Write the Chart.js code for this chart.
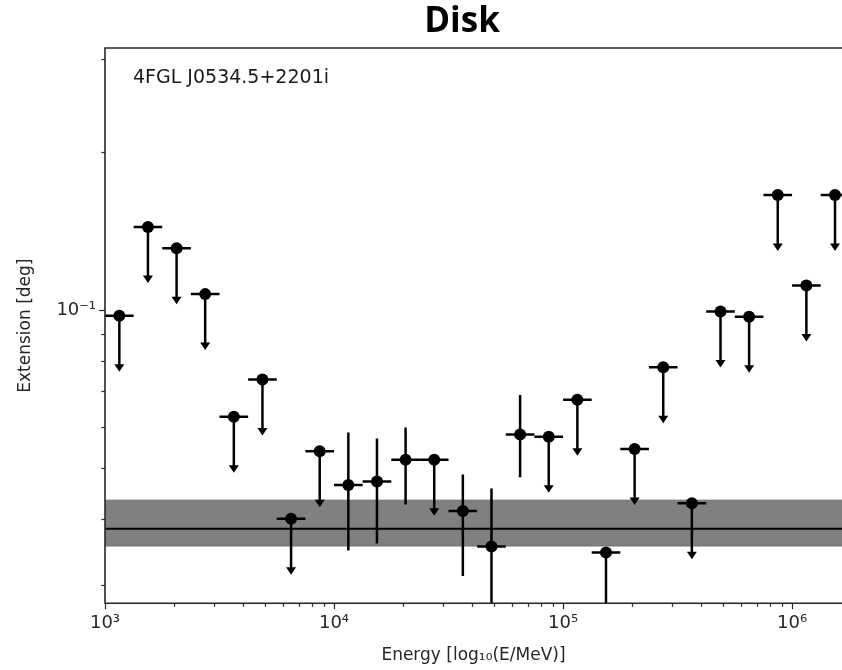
<!DOCTYPE html>
<html><head><meta charset="utf-8">
<script src="https://cdn.jsdelivr.net/npm/chart.js@4/dist/chart.umd.min.js"></script>
<style>html,body{margin:0;padding:0;background:#fff}#wrap{width:842px;height:670px;position:relative}</style>
</head><body><div id="wrap"><canvas id="c"></canvas></div>
<script>
// ---- data ----
const energyEdgesMeV = [1000, 1334, 1778, 2371, 3162, 4217, 5623, 7499, 10000, 13335, 17783, 23714, 31623, 42170, 56234, 74989, 100000, 133352, 177828, 237137, 316228, 421697, 562341, 749894, 1000000, 1333521, 1778279];
const energyCentersMeV = [1155, 1540, 2054, 2738, 3652, 4870, 6494, 8660, 11548, 15399, 20535, 27384, 36517, 48697, 64938, 86596, 115478, 153993, 205353, 273842, 365174, 486968, 649382, 865964, 1154782, 1539927];
const extensionDeg = [0.0975, 0.1438, 0.1310, 0.1072, 0.0627, 0.0738, 0.0401, 0.0539, 0.0465, 0.0472, 0.0519, 0.0519, 0.0415, 0.0355, 0.0580, 0.0574, 0.0675, 0.0346, 0.0544, 0.0778, 0.0429, 0.0993, 0.0971, 0.1655, 0.1113, 0.1655];
const isUpperLimit = [1, 1, 1, 1, 1, 1, 1, 1, 0, 0, 0, 1, 0, 0, 0, 1, 1, 0, 1, 1, 1, 1, 1, 1, 1, 1];
const errLowDeg  = [null, null, null, null, null, null, null, null, 0.0349, 0.0360, 0.0427, null, 0.0312, 0.0250, 0.0481, null, null, 0.0250, null, null, null, null, null, null, null, null];
const errHighDeg = [null, null, null, null, null, null, null, null, 0.0585, 0.0570, 0.0598, null, 0.0487, 0.0458, 0.0689, null, null, 0.0346, null, null, null, null, null, null, null, null];
const meanExtensionDeg = 0.0384;
const meanBandDeg = [0.0356, 0.0435];
const xTickValues = [1e3,2e3,3e3,4e3,5e3,6e3,7e3,8e3,9e3,1e4,2e4,3e4,4e4,5e4,6e4,7e4,8e4,9e4,1e5,2e5,3e5,4e5,5e5,6e5,7e5,8e5,9e5,1e6];
const xTickLabels = {1000: '10³', 10000: '10⁴', 100000: '10⁵', 1000000: '10⁶'};
const yTickValues = [0.03,0.04,0.05,0.06,0.07,0.08,0.09,0.1,0.2,0.3];
const yTickLabels = {0.1: '10⁻¹'};
const titleText = 'Disk';
const sourceName = '4FGL J0534.5+2201i';
const xAxisTitle = 'Energy [log₁₀(E/MeV)]';
const yAxisTitle = 'Extension [deg]';

const X_MIN = 1000, X_MAX = 1652000, Y_MIN = 0.0277, Y_MAX = 0.3148;
const ARROW_PX = 56;

const pointData = energyCentersMeV.map((x, i) => ({x, y: extensionDeg[i]}));

const errorBarPlugin = {
  id: 'errorBars',
  beforeDatasetDraw(chart, args) {
    if (args.index !== 3) return;
    const {ctx, chartArea: a, scales: {x, y}} = chart;
    ctx.save();
    ctx.beginPath(); ctx.rect(a.left, a.top, a.right - a.left, a.bottom - a.top); ctx.clip();
    ctx.strokeStyle = '#000'; ctx.fillStyle = '#000'; ctx.lineWidth = 2.5; ctx.lineCap = 'butt';
    for (let i = 0; i < extensionDeg.length; i++) {
      const px = x.getPixelForValue(energyCentersMeV[i]);
      const py = y.getPixelForValue(extensionDeg[i]);
      const xl = x.getPixelForValue(energyEdgesMeV[i]);
      const xr = x.getPixelForValue(energyEdgesMeV[i + 1]);
      ctx.beginPath(); ctx.moveTo(xl, py); ctx.lineTo(xr, py); ctx.stroke();
      if (isUpperLimit[i]) {
        const tip = py + ARROW_PX;
        ctx.beginPath(); ctx.moveTo(px, py); ctx.lineTo(px, tip - 6); ctx.stroke();
        ctx.beginPath(); ctx.moveTo(px - 5, tip - 7.5); ctx.lineTo(px + 5, tip - 7.5); ctx.lineTo(px, tip); ctx.closePath(); ctx.fill();
      } else {
        const yh = y.getPixelForValue(errHighDeg[i]);
        const yl = y.getPixelForValue(errLowDeg[i]);
        ctx.beginPath(); ctx.moveTo(px, yh); ctx.lineTo(px, yl); ctx.stroke();
      }
    }
    ctx.restore();
  }
};

const decorPlugin = {
  id: 'decor',
  afterDraw(chart) {
    const {ctx, chartArea: a, scales: {x, y}} = chart;
    ctx.save();
    ctx.strokeStyle = '#262626'; ctx.lineWidth = 1.2;
    xTickValues.forEach(v => {
      const px = Math.round(x.getPixelForValue(v)) + 0.5;
      const len = xTickLabels[v] ? 6 : 3.5;
      ctx.beginPath(); ctx.moveTo(px, a.bottom); ctx.lineTo(px, a.bottom + len); ctx.stroke();
    });
    yTickValues.forEach(v => {
      const py = Math.round(y.getPixelForValue(v)) + 0.5;
      const len = yTickLabels[v] ? 6 : 3.5;
      ctx.beginPath(); ctx.moveTo(a.left, py); ctx.lineTo(a.left - len, py); ctx.stroke();
    });
    ctx.lineWidth = 1.6;
    ctx.beginPath();
    ctx.moveTo(a.right + 2, a.top); ctx.lineTo(a.left, a.top); ctx.lineTo(a.left, a.bottom); ctx.lineTo(a.right + 2, a.bottom);
    ctx.stroke();
    ctx.fillStyle = '#000';
    ctx.font = 'bold 35px "Open Sans"';
    ctx.textAlign = 'center'; ctx.textBaseline = 'alphabetic';
    ctx.fillText(titleText, 462, 32);
    ctx.font = '19px "DejaVu Sans"';
    ctx.textAlign = 'left';
    ctx.fillStyle = '#1a1a1a';
    ctx.fillText(sourceName, 133, 83);
    ctx.restore();
  }
};

new Chart(document.getElementById('c'), {
  type: 'scatter',
  data: {
    datasets: [
      { type: 'line', label: 'band high', data: [{x: X_MIN, y: meanBandDeg[1]}, {x: X_MAX * 1.2, y: meanBandDeg[1]}],
        borderColor: '#6f6f6f', borderWidth: 1, backgroundColor: '#808080', fill: '+1', pointRadius: 0, order: 4 },
      { type: 'line', label: 'band low', data: [{x: X_MIN, y: meanBandDeg[0]}, {x: X_MAX * 1.2, y: meanBandDeg[0]}],
        borderColor: '#6f6f6f', borderWidth: 1, fill: false, pointRadius: 0, order: 3 },
      { type: 'line', label: 'mean', data: [{x: X_MIN, y: meanExtensionDeg}, {x: X_MAX * 1.2, y: meanExtensionDeg}],
        borderColor: '#000', borderWidth: 2, fill: false, pointRadius: 0, order: 2 },
      { label: 'extension', data: pointData, backgroundColor: '#000', borderColor: '#000',
        pointRadius: 6, pointHoverRadius: 6, borderWidth: 0, order: 1 }
    ]
  },
  options: {
    responsive: true, maintainAspectRatio: false, animation: false,
    layout: { autoPadding: false, padding: { top: 48, right: 0, left: 0, bottom: 0 } },
    plugins: { legend: { display: false }, tooltip: { enabled: false }, title: { display: false } },
    scales: {
      x: {
        type: 'logarithmic', min: X_MIN, max: X_MAX,
        afterBuildTicks: s => { s.ticks = xTickValues.map(v => ({value: v, major: !!xTickLabels[v]})); },
        afterFit: s => { s.height = 66.7; },
        grid: { display: true, drawOnChartArea: false, drawTicks: false, color: 'rgba(0,0,0,0)' },
        border: { display: false },
        ticks: { autoSkip: false, maxRotation: 0, padding: 9, color: '#262626',
                 font: { family: 'DejaVu Sans', size: 18 },
                 callback: v => xTickLabels[v] || '' },
        title: { display: true, text: xAxisTitle, color: '#262626',
                 font: { family: 'DejaVu Sans', size: 17 }, padding: { top: 0, bottom: 4 } }
      },
      y: {
        type: 'logarithmic', min: Y_MIN, max: Y_MAX,
        afterBuildTicks: s => { s.ticks = yTickValues.map(v => ({value: v, major: !!yTickLabels[v]})); },
        afterFit: s => { s.width = 105; },
        grid: { display: true, drawOnChartArea: false, drawTicks: false, color: 'rgba(0,0,0,0)' },
        border: { display: false },
        ticks: { autoSkip: false, padding: 9, color: '#262626',
                 font: { family: 'DejaVu Sans', size: 18 },
                 callback: v => yTickLabels[v] || '' },
        title: { display: true, text: yAxisTitle, color: '#262626',
                 font: { family: 'DejaVu Sans', size: 17 }, padding: { top: 15, bottom: 0 } }
      }
    }
  },
  plugins: [errorBarPlugin, decorPlugin]
});
</script>
</body></html>
